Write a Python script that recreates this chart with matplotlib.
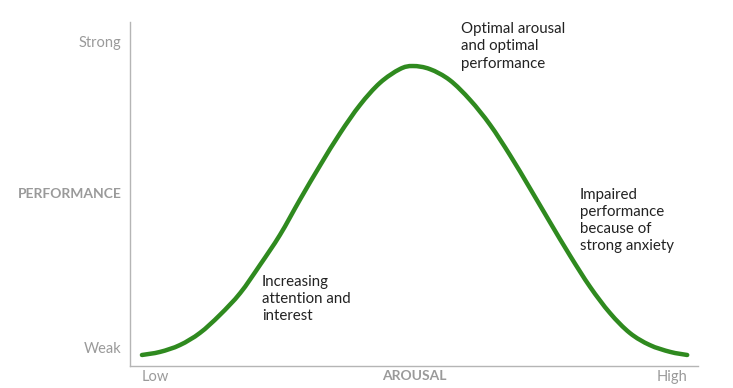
import matplotlib.pyplot as plt
from matplotlib.path import Path
from matplotlib.patches import PathPatch

# arousal (0 = low, 100 = high) vs performance (0 = weak, 100 = strong)
arousal = [2.1, 5.3, 8.8, 12.3, 15.8, 19.4, 22.9, 26.4, 29.9, 33.5, 37.0, 40.5, 44.0, 47.5, 49.8,
           52.8, 56.3, 59.9, 63.4, 66.9, 70.4, 73.9, 77.5, 81.0, 84.5, 88.0, 91.5, 95.1, 98.1]
performance = [3.2, 4.1, 6.1, 9.6, 14.8, 21.2, 29.4, 38.1, 48.3, 58.4, 67.7, 75.9, 82.3, 86.3, 87.2,
               86.3, 83.1, 77.3, 70.1, 61.3, 51.7, 41.9, 32.0, 23.0, 15.4, 9.6, 6.1, 4.1, 3.2]

y_ticks = [5.5, 50.3, 94.2]
y_labels = ["Weak", "PERFORMANCE", "Strong"]
x_ticks = [4.4, 50.0, 95.4]
x_labels = ["Low", "AROUSAL", "High"]

notes = [
    (58.3, 92.9, "Optimal arousal\nand optimal\nperformance"),
    (79.2, 42.3, "Impaired\nperformance\nbecause of\nstrong anxiety"),
    (23.2, 19.5, "Increasing\nattention and\ninterest"),
]


def smooth_path(xs, ys):
    # catmull-rom through the read points, drawn as cubic beziers
    pts = list(zip(xs, ys))
    verts = [pts[0]]
    codes = [Path.MOVETO]
    for i in range(len(pts) - 1):
        p0 = pts[max(i - 1, 0)]
        p1, p2 = pts[i], pts[i + 1]
        p3 = pts[min(i + 2, len(pts) - 1)]
        c1 = (p1[0] + (p2[0] - p0[0]) / 6, p1[1] + (p2[1] - p0[1]) / 6)
        c2 = (p2[0] - (p3[0] - p1[0]) / 6, p2[1] - (p3[1] - p1[1]) / 6)
        verts += [c1, c2, p2]
        codes += [Path.CURVE4] * 3
    return Path(verts, codes)


plt.rcParams["font.family"] = ["Lato", "DejaVu Sans"]

fig = plt.figure(figsize=(7.33, 3.88), dpi=100)
ax = fig.add_axes([130 / 733, 22 / 388, 568 / 733, 344 / 388])

ax.add_patch(PathPatch(smooth_path(arousal, performance), fill=False,
                       edgecolor="#2f8a1f", lw=3.2, capstyle="round"))

ax.set_xlim(0, 100)
ax.set_ylim(0, 100)
for side in ["top", "right"]:
    ax.spines[side].set_visible(False)
for side in ["left", "bottom"]:
    ax.spines[side].set_color("#b5b5b5")
    ax.spines[side].set_linewidth(1.0)

grey = "#9a9a9a"
ax.set_yticks(y_ticks, y_labels)
ax.set_xticks(x_ticks, x_labels)
ax.tick_params(axis="y", length=0, pad=6, labelsize=10.5, labelcolor=grey)
ax.tick_params(axis="x", length=0, pad=3, labelsize=10.5, labelcolor=grey)
for lbl in (ax.get_yticklabels()[1], ax.get_xticklabels()[1]):
    lbl.set_fontweight("bold")
    lbl.set_fontsize(10)

for x, y, txt in notes:
    ax.text(x, y, txt, ha="left", va="center", fontsize=10.8, color="#222222",
            linespacing=1.3, clip_on=False)

fig.savefig("out.png", dpi=100)
